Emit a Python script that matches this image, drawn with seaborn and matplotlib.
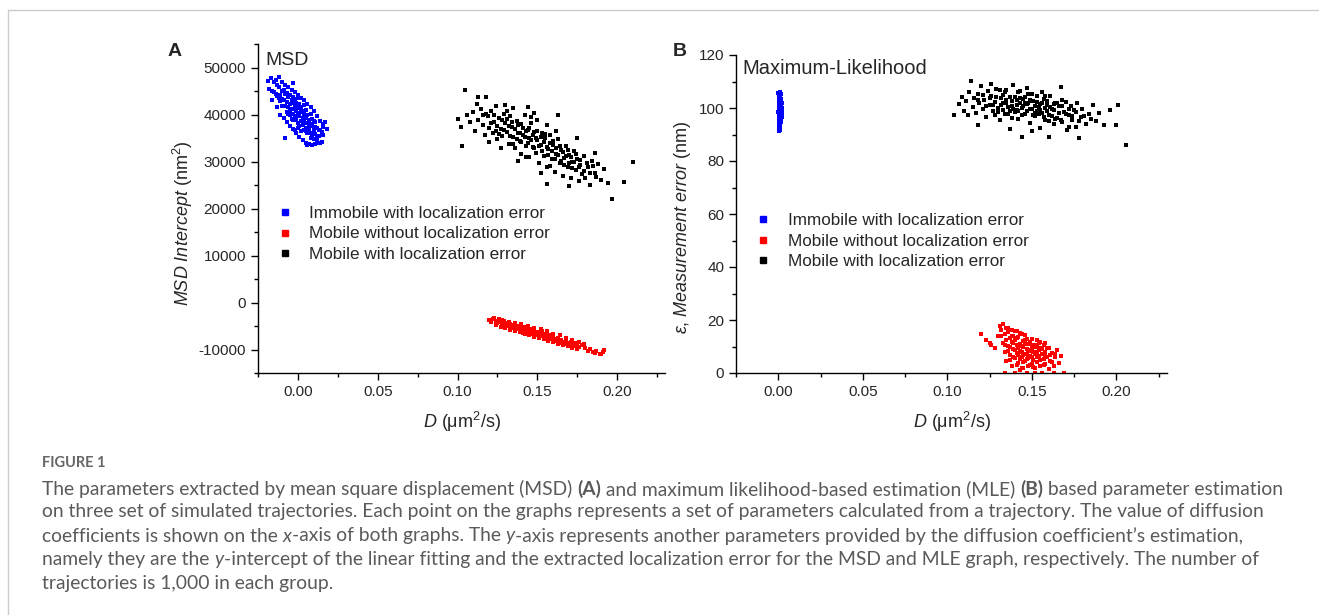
import matplotlib
matplotlib.use('Agg')
import matplotlib.pyplot as plt
import seaborn as sns
from matplotlib.lines import Line2D
from matplotlib.ticker import MultipleLocator, FormatStrFormatter

# ---- data (D in um^2/s) ----
# Panel A: MSD intercept (nm^2)
msd_blue_d = [-0.019, -0.017, -0.016, -0.015, -0.014, -0.013, -0.012, -0.012, -0.011, -0.010, -0.010, -0.009,
              -0.009, -0.008, -0.008, -0.007, -0.007, -0.006, -0.006, -0.005, -0.005, -0.005, -0.004, -0.004,
              -0.003, -0.003, -0.003, -0.002, -0.002, -0.002, -0.001, -0.001, -0.001, 0.000, 0.000, 0.000,
              0.001, 0.001, 0.001, 0.002, 0.002, 0.002, 0.003, 0.003, 0.003, 0.004, 0.004, 0.005, 0.005, 0.005,
              0.006, 0.006, 0.007, 0.007, 0.008, 0.008, 0.009, 0.009, 0.010, 0.010, 0.011, 0.012, 0.012, 0.013,
              0.014, 0.015, 0.016, 0.017, -0.014, -0.012, -0.003, 0.001, 0.004, 0.008, 0.011, -0.008, -0.002,
              0.006, 0.014, 0.016, 0.018, -0.018,
              -0.016, -0.013, -0.011, -0.009, -0.007, -0.005, -0.003, -0.001, 0.001, 0.003, 0.005, 0.007, 0.009,
              0.011, 0.013, -0.010, -0.008, -0.006, -0.004, -0.002, 0.000, 0.002, 0.004, 0.006, 0.008, 0.010,
              0.012, 0.014, 0.016, -0.015, -0.013, -0.011, -0.009, -0.007, -0.005, -0.003, -0.001, 0.001, 0.003,
              0.005, 0.007, 0.009, 0.011, 0.013, 0.015, -0.004, 0.000, 0.004, 0.008, -0.010, -0.006, 0.002,
              0.006, 0.010, 0.012]
msd_blue_y = [47200, 47800, 45100, 46900, 44300, 46200, 43600, 45800, 42900, 44900, 41800, 43100,
              45200, 41900, 44400, 42700, 40600, 43800, 41500, 42300, 39900, 44100, 41100, 43000,
              40200, 42400, 38800, 41600, 39500, 43200, 40800, 38900, 42500, 40300, 41900, 38200,
              39600, 41400, 37500, 40500, 38600, 36400, 39200, 40800, 37800, 38500, 40100, 37200, 39300, 36500,
              38100, 36000, 37300, 38900, 36100, 38000, 35500, 37600, 36600, 34800, 35900, 37200, 34300, 35500,
              36800, 34100, 35600, 38300, 47400, 47900, 46800, 43500, 42000, 40200, 38300, 35100, 36800,
              33600, 33900, 37300, 37000, 45500,
              43000, 41500, 40000, 39200, 38300, 37600, 36900, 36000, 35300, 34600, 34000, 33700, 33500,
              33800, 34000, 47000, 46300, 45900, 45300, 44800, 44200, 43600, 43100, 42300, 41600, 40700,
              39600, 38700, 38000, 44700, 43900, 44100, 41800, 44600, 40800, 43700, 39700, 42300, 38300,
              40900, 36400, 39100, 37300, 36600, 36300, 39000, 37100, 36800, 34900, 43300, 40200, 41700,
              39800, 38600, 35300]

msd_red_d = [0.120, 0.121, 0.122, 0.124, 0.125, 0.126, 0.127, 0.128, 0.129, 0.130, 0.131, 0.132, 0.133, 0.134,
             0.134, 0.135, 0.136, 0.136, 0.137, 0.138, 0.138, 0.139, 0.140, 0.140, 0.141, 0.142, 0.142, 0.143,
             0.144, 0.144, 0.145, 0.146, 0.146, 0.147, 0.148, 0.148, 0.149, 0.150, 0.150, 0.151, 0.152, 0.152,
             0.153, 0.154, 0.154, 0.155, 0.156, 0.156, 0.157, 0.158, 0.158, 0.159, 0.160, 0.160, 0.161, 0.162,
             0.163, 0.164, 0.165, 0.165, 0.166, 0.167, 0.168, 0.169, 0.170, 0.171, 0.172, 0.173, 0.174, 0.175,
             0.176, 0.178, 0.180, 0.183, 0.185, 0.187, 0.189, 0.191, 0.192, 0.129, 0.141, 0.153, 0.163,
             0.124, 0.127, 0.130, 0.133, 0.136, 0.139, 0.142, 0.145, 0.148, 0.151, 0.154, 0.157, 0.160, 0.163,
             0.166, 0.169, 0.172, 0.175, 0.123, 0.128, 0.132, 0.136, 0.140, 0.144, 0.148, 0.152, 0.156, 0.160,
             0.164, 0.168, 0.172, 0.176, 0.179, 0.131, 0.135, 0.139, 0.143, 0.147, 0.151, 0.155, 0.159, 0.163,
             0.167, 0.171, 0.182, 0.186, 0.190]
msd_red_y = [-3700, -4100, -3500, -3900, -4400, -3600, -4200, -4800, -3900, -4600, -4300, -5000, -4500, -5300,
             -4700, -5100, -4800, -5600, -5200, -4900, -5700, -5400, -5100, -5900, -5500, -6200, -5300, -5800,
             -6300, -5600, -6000, -6600, -5700, -6200, -6800, -6000, -6500, -7000, -6200, -6700, -6400, -7200,
             -6900, -7400, -6600, -7100, -7600, -6900, -7300, -7800, -7000, -7500, -8000, -7300, -7700, -8200,
             -7600, -8100, -8600, -7900, -8300, -8800, -8200, -8600, -9100, -8500, -8900, -9300, -8700, -9200,
             -9500, -9000, -9700, -9900, -10500, -10300, -10900, -10600, -10200, -5200, -6500, -6000, -8900,
             -4700, -5200, -5500, -5800, -6100, -6300, -6700, -6900, -7300, -7500, -7800, -8200, -8500, -8700,
             -9000, -9300, -9600, -9800, -3400, -3700, -4100, -4400, -4600, -5000, -5400, -5700, -6100, -6600,
             -7000, -7500, -8000, -8400, -8800, -4900, -5400, -5800, -6100, -6500, -6900, -7200, -7700, -8000,
             -8500, -8800, -10300, -10800, -11000]

msd_black_d = [0.100, 0.102, 0.103, 0.105, 0.106, 0.108, 0.110, 0.111, 0.112, 0.113, 0.115, 0.116, 0.117, 0.118,
               0.119, 0.120, 0.121, 0.122, 0.123, 0.124, 0.125, 0.126, 0.127, 0.128, 0.129, 0.130, 0.131, 0.132,
               0.133, 0.134, 0.135, 0.135, 0.136, 0.137, 0.138, 0.139, 0.140, 0.140, 0.141, 0.142, 0.143, 0.144,
               0.145, 0.145, 0.146, 0.147, 0.148, 0.149, 0.150, 0.150, 0.151, 0.152, 0.153, 0.154, 0.155, 0.156,
               0.157, 0.158, 0.159, 0.160, 0.161, 0.162, 0.163, 0.164, 0.165, 0.166, 0.167, 0.168, 0.169, 0.170,
               0.171, 0.172, 0.173, 0.174, 0.175, 0.176, 0.177, 0.178, 0.179, 0.180, 0.182, 0.183, 0.184, 0.186,
               0.188, 0.190, 0.192, 0.194, 0.197, 0.204, 0.210, 0.130, 0.120, 0.113, 0.148, 0.156, 0.162, 0.138,
               0.127, 0.144, 0.152, 0.156, 0.170, 0.175, 0.163, 0.186,
               0.118, 0.121, 0.123, 0.125, 0.126, 0.128, 0.129, 0.131, 0.132, 0.133, 0.134, 0.136, 0.137, 0.138,
               0.139, 0.140, 0.141, 0.142, 0.143, 0.144, 0.145, 0.146, 0.147, 0.148, 0.149, 0.150, 0.151, 0.152,
               0.153, 0.154, 0.155, 0.156, 0.157, 0.158, 0.159, 0.160, 0.161, 0.162, 0.163, 0.164, 0.165, 0.166,
               0.167, 0.168, 0.169, 0.170, 0.171, 0.172, 0.173, 0.174, 0.176, 0.177, 0.179, 0.181, 0.183, 0.185,
               0.187, 0.135, 0.143, 0.146, 0.158, 0.124, 0.116, 0.131]
msd_black_y = [39100, 37400, 33200, 45200, 39800, 38300, 40600, 36500, 42300, 38900, 41200, 37800, 35600, 43700,
               39600, 37200, 40700, 36100, 38500, 41800, 34800, 39300, 37000, 35500, 40100, 38100, 36300, 33700,
               39600, 37400, 35200, 41300, 32800, 38600, 36000, 34300, 37900, 31600, 35600, 39800, 33400, 36800,
               30900, 35100, 38200, 33000, 36300, 31800, 34600, 38900, 29700, 33600, 36000, 31200, 34900, 28900,
               32700, 35700, 30500, 33500, 27800, 31700, 34700, 29600, 32400, 27000, 30800, 33400, 28800, 31300,
               26400, 29900, 32200, 28100, 30600, 25800, 29300, 27300, 31100, 26500, 28800, 24900, 30200, 27600,
               29400, 26100, 28300, 25500, 22000, 25600, 29900, 42100, 34200, 43800, 40400, 37800, 36400, 30100,
               32800, 41700, 27500, 25300, 24700, 35000, 40000, 31800,
               40200, 38100, 40000, 37600, 35900, 38800, 36700, 39100, 37500, 35400, 38300, 36900, 34800, 37800,
               36100, 34200, 37200, 35300, 36400, 33900, 37100, 34600, 35700, 32800, 34900, 36400, 33200, 35200,
               32300, 34100, 35800, 33000, 31300, 33900, 32200, 34400, 30600, 32800, 31400, 33200, 30100, 32000,
               29200, 31100, 32500, 29600, 30900, 28600, 30000, 31600, 28800, 30400, 27900, 29600, 27600, 29000,
               26600, 33800, 31000, 39500, 29000, 36400, 39900, 40800]

# Panel B: measurement error epsilon (nm)
mle_blue_d = [0.0000, 0.0010, 0.0005, 0.0015, 0.0008, 0.0002, 0.0012, 0.0018, 0.0005, 0.0010, 0.0020, 0.0003,
              0.0014, 0.0022, 0.0007, 0.0011, 0.0019, 0.0001, 0.0016, 0.0024, 0.0006, 0.0013, 0.0009, 0.0021,
              0.0004, 0.0012, 0.0017, 0.0007, 0.0010, 0.0003, 0.0008, 0.0005, 0.0013, 0.0006, 0.0015, 0.0009,
              0.0002, 0.0011, 0.0020, 0.0004,
              0.0006, 0.0012, 0.0004, 0.0017, 0.0009, 0.0015, 0.0005, 0.0019, 0.0008, 0.0014, 0.0003, 0.0011,
              0.0023, 0.0007, 0.0015, 0.0010, 0.0006, 0.0012, 0.0009, 0.0016]
mle_blue_y = [105.8, 106.2, 104.9, 105.1, 103.8, 103.2, 102.7, 103.5, 102.1, 101.6, 101.9, 100.8,
              100.4, 100.1, 99.7, 99.2, 98.8, 98.5, 98.0, 97.6, 97.3, 96.8, 96.2, 96.5,
              95.7, 95.1, 94.6, 94.0, 93.3, 92.6, 91.8, 91.2, 99.9, 101.0, 97.0, 102.9,
              96.9, 104.2, 99.4, 94.8,
              105.3, 104.6, 103.9, 102.3, 101.3, 100.9, 100.2, 99.6, 98.9, 98.3, 97.8, 97.1,
              98.2, 96.5, 95.9, 95.4, 93.7, 92.9, 92.1, 101.4]

mle_red_d = [0.120, 0.123, 0.125, 0.128, 0.130, 0.131, 0.132, 0.133, 0.133, 0.134, 0.134, 0.135, 0.135, 0.135,
             0.136, 0.136, 0.137, 0.137, 0.138, 0.138, 0.139, 0.139, 0.140, 0.140, 0.140, 0.141, 0.141, 0.142,
             0.142, 0.143, 0.143, 0.143, 0.144, 0.144, 0.145, 0.145, 0.145, 0.146, 0.146, 0.147, 0.147, 0.147,
             0.148, 0.148, 0.149, 0.149, 0.150, 0.150, 0.150, 0.151, 0.151, 0.152, 0.152, 0.153, 0.153, 0.154,
             0.154, 0.155, 0.155, 0.156, 0.156, 0.157, 0.157, 0.158, 0.158, 0.159, 0.160, 0.160, 0.161, 0.162,
             0.163, 0.164, 0.165, 0.166, 0.167, 0.134, 0.140, 0.152, 0.163, 0.169, 0.141, 0.137, 0.146, 0.144,
             0.153, 0.158,
             0.134, 0.136, 0.137, 0.138, 0.139, 0.139, 0.140, 0.141, 0.141, 0.142, 0.142, 0.143, 0.143, 0.144,
             0.144, 0.145, 0.145, 0.146, 0.146, 0.147, 0.147, 0.148, 0.148, 0.149, 0.149, 0.150, 0.150, 0.151,
             0.151, 0.152, 0.153, 0.153, 0.154, 0.155, 0.155, 0.156, 0.157, 0.158, 0.159, 0.161, 0.162, 0.164,
             0.136, 0.138, 0.132, 0.126]
mle_red_y = [14.6, 12.4, 11.2, 9.3, 13.8, 17.9, 16.2, 18.4, 11.5, 14.7, 7.8, 16.9, 12.6, 4.5,
             10.1, 15.3, 13.2, 6.9, 11.7, 2.8, 14.1, 9.0, 12.3, 5.6, 16.0, 10.6, 7.5, 13.5,
             3.9, 11.0, 8.4, 1.2, 14.8, 6.2, 9.7, 12.1, 4.1, 7.3, 10.8, 13.0, 5.4, 0.0,
             8.8, 2.5, 11.6, 6.6, 9.2, 3.5, 12.9, 7.8, 5.0, 10.4, 1.9, 8.1, 4.3, 11.2,
             6.4, 2.8, 9.5, 7.1, 0.0, 5.2, 10.6, 3.4, 8.0, 6.1, 1.5, 9.3, 4.7, 7.6,
             2.6, 5.9, 8.7, 3.7, 6.3, 0.0, 0.0, 0.0, 0.0, 0.0, 15.8, 9.8, 14.2, 2.0,
             12.4, 11.3,
             10.5, 8.2, 4.9, 13.9, 6.0, 11.3, 8.7, 3.1, 13.2, 9.5, 6.8, 15.1, 5.2, 10.2,
             8.0, 6.9, 1.9, 12.5, 4.6, 9.1, 7.0, 11.0, 5.8, 8.4, 3.0, 10.7, 6.0, 9.8,
             2.3, 7.2, 10.0, 6.1, 8.8, 4.9, 11.8, 8.9, 3.0, 6.7, 9.4, 6.8, 4.0, 7.3,
             17.1, 16.4, 14.0, 10.4]

mle_black_d = [0.104, 0.107, 0.109, 0.110, 0.111, 0.113, 0.114, 0.115, 0.116, 0.117, 0.118, 0.119, 0.120, 0.121,
               0.122, 0.123, 0.124, 0.125, 0.126, 0.127, 0.128, 0.129, 0.130, 0.131, 0.132, 0.133, 0.134, 0.135,
               0.136, 0.137, 0.138, 0.139, 0.140, 0.141, 0.142, 0.143, 0.144, 0.144, 0.145, 0.146, 0.147, 0.148,
               0.149, 0.150, 0.151, 0.152, 0.153, 0.154, 0.155, 0.156, 0.157, 0.158, 0.159, 0.160, 0.160, 0.161,
               0.162, 0.163, 0.164, 0.165, 0.166, 0.167, 0.168, 0.169, 0.170, 0.171, 0.172, 0.173, 0.174, 0.175,
               0.176, 0.177, 0.178, 0.179, 0.180, 0.182, 0.184, 0.186, 0.188, 0.190, 0.193, 0.196, 0.200, 0.201,
               0.206, 0.112, 0.118, 0.126, 0.131, 0.137, 0.143, 0.147, 0.150, 0.153, 0.156, 0.159, 0.163, 0.168,
               0.172, 0.138, 0.146, 0.152, 0.141, 0.149, 0.155, 0.133, 0.128,
               0.118, 0.121, 0.123, 0.125, 0.127, 0.129, 0.130, 0.132, 0.133, 0.134, 0.135, 0.136, 0.137, 0.138,
               0.139, 0.140, 0.141, 0.142, 0.143, 0.144, 0.145, 0.146, 0.147, 0.148, 0.149, 0.150, 0.151, 0.152,
               0.153, 0.154, 0.155, 0.156, 0.157, 0.158, 0.159, 0.160, 0.161, 0.162, 0.163, 0.164, 0.165, 0.166,
               0.167, 0.168, 0.170, 0.172, 0.174, 0.176, 0.178, 0.181, 0.185, 0.135, 0.142, 0.150, 0.158]
mle_black_y = [97.4, 101.5, 104.2, 99.0, 102.8, 106.1, 110.2, 100.4, 103.6, 98.1, 105.3, 101.9, 108.4, 99.6,
               103.1, 96.7, 106.4, 101.0, 104.5, 98.8, 102.4, 107.2, 100.1, 95.4, 103.8, 99.3, 105.9, 101.7,
               97.6, 104.0, 100.6, 108.5, 98.4, 102.9, 95.9, 106.6, 100.0, 89.2, 103.3, 97.9, 101.4, 105.1,
               94.3, 99.5, 102.6, 96.8, 104.7, 100.3, 92.4, 98.1, 103.4, 95.6, 101.2, 89.2, 97.4, 104.6,
               99.8, 93.8, 102.0, 96.3, 100.7, 108.0, 94.9, 98.6, 102.3, 91.7, 97.2, 100.9, 95.3, 99.1,
               93.0, 101.8, 88.7, 96.6, 99.7, 94.1, 97.8, 101.3, 95.0, 98.3, 93.7, 99.4, 93.6, 101.1,
               86.0, 97.2, 93.5, 109.1, 106.8, 92.2, 103.9, 107.7, 91.5, 99.0, 106.2, 98.9, 101.6, 103.2,
               92.8, 96.2, 101.8, 98.2, 99.1, 103.0, 101.6, 102.0, 97.5,
               102.9, 104.8, 100.9, 103.7, 101.2, 104.1, 98.6, 101.1, 104.8, 97.9, 103.0, 100.5, 98.7, 102.8,
               99.5, 104.2, 101.3, 99.0, 101.9, 97.2, 100.8, 104.0, 98.7, 101.9, 99.7, 102.6, 97.3, 100.9,
               102.1, 97.7, 99.3, 101.9, 96.6, 99.9, 102.8, 95.0, 100.2, 97.0, 99.3, 96.0, 101.9, 98.0,
               95.5, 100.6, 97.9, 99.6, 96.9, 98.4, 95.2, 97.1, 95.9, 106.7, 106.0, 105.2, 104.6]

labels = ['Immobile with localization error', 'Mobile without localization error', 'Mobile with localization error']
colors = ['#0000ff', '#ff0000', '#000000']

sns.set_style('ticks')
plt.rcParams['font.family'] = ['Liberation Sans', 'DejaVu Sans']
plt.rcParams['axes.unicode_minus'] = False
plt.rcParams['mathtext.fontset'] = 'custom'
plt.rcParams['mathtext.rm'] = 'Liberation Sans'
plt.rcParams['mathtext.it'] = 'Liberation Sans:italic'
plt.rcParams['mathtext.bf'] = 'Liberation Sans:bold'

W, H = 1319, 615
fig = plt.figure(figsize=(W / 100, H / 100), dpi=100)
fig.patch.set_facecolor('white')


def px_box(l, r, t, b):
    return [l / W, 1 - b / H, (r - l) / W, (b - t) / H]


axA = fig.add_axes(px_box(258, 665, 44, 373))
axB = fig.add_axes(px_box(736, 1167, 55, 373))

pt = 6
for ax, groups in [(axA, [(msd_blue_d, msd_blue_y), (msd_red_d, msd_red_y), (msd_black_d, msd_black_y)]),
                   (axB, [(mle_blue_d, mle_blue_y), (mle_red_d, mle_red_y), (mle_black_d, mle_black_y)])]:
    for (xs, ys), c in zip(groups, colors):
        sns.scatterplot(x=xs, y=ys, ax=ax, color=c, marker='s', s=pt, linewidth=0)

# axes formatting
for ax in (axA, axB):
    ax.set_facecolor('white')
    sns.despine(ax=ax)
    ax.set_xlim(-0.025, 0.23)
    ax.xaxis.set_major_locator(MultipleLocator(0.05))
    ax.xaxis.set_minor_locator(MultipleLocator(0.025))
    ax.xaxis.set_major_formatter(FormatStrFormatter('%.2f'))
    ax.tick_params(which='major', length=5, width=1.0, labelsize=11, color='black', direction='out')
    ax.tick_params(which='minor', length=3, width=1.0, color='black', direction='out')
    for sp in ('left', 'bottom'):
        ax.spines[sp].set_color('black')
        ax.spines[sp].set_linewidth(1.0)
    ax.set_xlabel(r'$D$ (μm$^2$/s)', fontsize=13, labelpad=8)

axA.set_ylim(-15000, 55000)
axA.yaxis.set_major_locator(MultipleLocator(10000))
axA.yaxis.set_minor_locator(MultipleLocator(5000))
axA.set_ylabel(r'$MSD\ Intercept$ (nm$^2$)', fontsize=13, labelpad=3)
axA.yaxis.label.set_y(0.456)
axA.text(0.017, 0.951, 'MSD', transform=axA.transAxes, fontsize=14, va='center', ha='left')

axB.set_ylim(0, 120)
axB.yaxis.set_major_locator(MultipleLocator(20))
axB.yaxis.set_minor_locator(MultipleLocator(10))
axB.set_ylabel(r'$\varepsilon$, $Measurement\ error$ (nm)', fontsize=13, labelpad=4)
axB.yaxis.label.set_y(0.459)
axB.text(0.014, 0.959, 'Maximum-Likelihood', transform=axB.transAxes, fontsize=14.5, va='center', ha='left')

handles = [Line2D([], [], marker='s', linestyle='', color=c, markersize=5) for c in colors]
axA.legend(handles, labels, loc='center left', bbox_to_anchor=(0.045, 0.4225), frameon=False, fontsize=12.3,
           handlelength=1.0, handletextpad=0.9, labelspacing=0.3, borderpad=0, borderaxespad=0)
axB.legend(handles, labels, loc='center left', bbox_to_anchor=(0.0427, 0.415), frameon=False, fontsize=12.3,
           handlelength=1.0, handletextpad=0.95, labelspacing=0.3, borderpad=0, borderaxespad=0)

fig.text(175 / W, 1 - 52 / H, 'A', fontsize=14, weight='bold', ha='center', va='center')
fig.text(680 / W, 1 - 52 / H, 'B', fontsize=14, weight='bold', ha='center', va='center')

# page borders
fig.add_artist(Line2D([8 / W, 1], [1 - 10 / H, 1 - 10 / H], color='#cccccc', lw=1))
fig.add_artist(Line2D([8 / W, 8 / W], [0, 1 - 10 / H], color='#cccccc', lw=1))

# caption
cap_color = '#5a5a5a'
fig.text(42 / W, 1 - 463 / H, 'FIGURE 1', fontsize=10.5, color='#666666', weight='bold', family='Lato',
         va='center')

rend = fig.canvas.get_renderer()


def text_w(s, **kw):
    t = fig.text(0, 0, s, **kw)
    w = t.get_window_extent(rend).width
    t.remove()
    return w


def put_runs(ypx, runs):
    x = 42
    for s, st in runs:
        kw = dict(fontsize=13.9, color=cap_color, family='Lato', va='center')
        if st == 'b':
            kw['weight'] = 'bold'
        if st == 'i':
            kw['style'] = 'italic'
        fig.text(x / W, 1 - ypx / H, s, **kw)
        x += text_w('|' + s + '|', **kw) - text_w('||', **kw)


put_runs(489, [('The parameters extracted by mean square displacement (MSD) ', ''), ('(A)', 'b'),
               (' and maximum likelihood-based estimation (MLE) ', ''), ('(B)', 'b'),
               (' based parameter estimation', '')])
put_runs(512, [('on three set of simulated trajectories. Each point on the graphs represents a set of parameters '
                'calculated from a trajectory. The value of diffusion', '')])
put_runs(536, [('coefficients is shown on the ', ''), ('x', 'i'), ('-axis of both graphs. The ', ''), ('y', 'i'),
               ('-axis represents another parameters provided by the diffusion coefficient\u2019s estimation,', '')])
put_runs(560, [('namely they are the ', ''), ('y', 'i'),
               ('-intercept of the linear fitting and the extracted localization error for the MSD and MLE '
                'graph, respectively. The number of', '')])
put_runs(584, [('trajectories is 1,000 in each group.', '')])

fig.savefig('out.png', dpi=100)
